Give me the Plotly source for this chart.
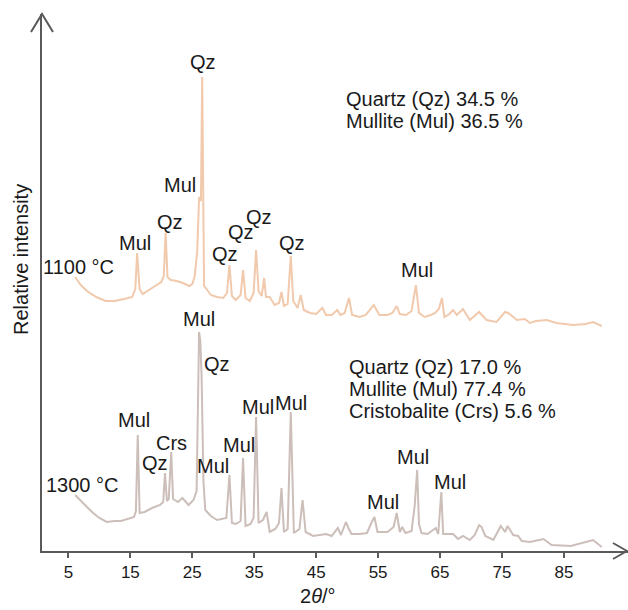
import plotly.graph_objects as go

# ---------------- data ----------------
tt_1100 = [6.1, 7.0, 8.0, 9.5, 11.0, 12.5, 14.0, 15.3, 15.8, 16.1, 16.5, 17.0, 18.0, 19.0, 20.0,
           20.4, 20.7, 21.0, 21.5, 22.5, 23.5, 24.5, 25.0, 25.4, 25.8, 26.1, 26.4, 26.6, 26.9,
           27.3, 28.0, 29.0, 30.0, 30.6, 31.0, 31.4, 32.0, 32.8, 33.2, 33.6, 34.3, 34.9, 35.3,
           35.7, 36.2, 36.6, 36.9, 37.5, 38.3, 39.0, 39.4, 39.8, 40.4, 40.9, 41.3, 42.0, 42.5,
           43.0, 44.0, 45.0, 46.0, 46.6, 47.5, 48.4, 48.9, 49.6, 50.3, 50.8, 52.0, 53.0, 54.3,
           55.2, 56.5, 57.3, 58.0, 58.5, 59.5, 60.4, 61.1, 61.6, 62.5, 63.5, 64.2, 64.8, 65.3,
           65.7, 66.5, 67.1, 67.7, 68.7, 69.8, 71.3, 72.5, 74.1, 75.0, 75.5, 76.0, 77.4, 78.7,
           79.5, 80.5, 82.2, 83.8, 86.5, 88.5, 89.7, 91.1]
int_1100 = [274, 266, 260, 254, 250, 250, 252, 254, 262, 298, 262, 257, 261, 265, 269,
            275, 318, 274, 271, 270, 268, 265, 267, 275, 300, 354, 350, 474, 265,
            262, 256, 254, 253, 258, 286, 255, 251, 256, 281, 253, 250, 258, 301,
            260, 255, 273, 254, 254, 246, 248, 259, 245, 247, 295, 250, 243, 256,
            241, 238, 237, 243, 236, 236, 241, 236, 238, 253, 236, 234, 236, 246,
            236, 236, 238, 245, 237, 236, 240, 266, 238, 234, 236, 238, 242, 253,
            234, 237, 241, 236, 242, 231, 239, 231, 229, 235, 239, 238, 231, 232,
            228, 230, 231, 228, 226, 227, 229, 225]

tt_1300 = [6.1, 7.0, 8.0, 9.0, 10.0, 11.2, 12.5, 13.5, 14.7, 15.6, 15.9, 16.2, 16.5, 17.3, 18.5,
           19.8, 20.3, 20.6, 20.9, 21.2, 21.6, 21.9, 22.7, 23.4, 24.4, 25.2, 25.7, 26.1, 26.3,
           26.5, 26.8, 27.1, 28.0, 29.0, 30.5, 31.0, 31.4, 32.0, 32.8, 33.2, 33.6, 34.4, 34.9,
           35.3, 35.7, 36.4, 37.0, 37.5, 38.4, 39.0, 39.4, 39.8, 40.4, 40.9, 41.4, 42.3, 42.8,
           43.3, 44.5, 45.7, 46.6, 47.5, 48.1, 48.5, 49.0, 49.5, 49.8, 50.2, 50.7, 52.0, 53.2,
           53.9, 54.4, 54.9, 56.5, 57.5, 58.0, 58.5, 58.9, 59.4, 60.4, 60.9, 61.3, 61.6, 62.0,
           63.0, 63.9, 64.3, 64.7, 65.2, 65.5, 66.3, 67.1, 67.9, 68.7, 69.8, 70.6, 71.3, 71.7,
           72.3, 73.6, 74.8, 75.5, 75.9, 76.8, 77.6, 78.2, 79.5, 81.7, 83.0, 86.1, 89.7, 91.1]
int_1300 = [56, 50, 44, 38, 33, 29, 30, 30, 32, 34, 40, 116, 38, 39, 43,
            46, 49, 78, 50, 52, 99, 52, 49, 53, 46, 51, 60, 219, 210,
            176, 70, 41, 35, 31, 33, 76, 28, 27, 30, 93, 25, 27, 33,
            134, 28, 31, 39, 19, 22, 28, 63, 19, 22, 139, 18, 22, 51,
            19, 15, 16, 17, 15, 20, 23, 16, 25, 29, 23, 17, 17, 18,
            28, 34, 19, 19, 24, 38, 19, 24, 18, 20, 45, 81, 27, 18,
            17, 21, 23, 17, 59, 17, 17, 17, 12, 15, 11, 16, 26, 24,
            15, 11, 25, 19, 25, 16, 15, 10, 9, 12, 6, 5, 11, 4]

x_ticks = [5, 15, 25, 35, 45, 55, 65, 75, 85]

# peak labels: (text, 2theta, intensity)
labels_1100 = [("Qz", 26.7, 489), ("Mul", 23.0, 366), ("Qz", 21.4, 329), ("Mul", 15.75, 308),
               ("Qz", 30.3, 297), ("Qz", 32.9, 319), ("Qz", 35.7, 334), ("Qz", 41.1, 308),
               ("Mul", 61.3, 281)]
labels_1300 = [("Mul", 26.1, 232), ("Qz", 29.0, 187), ("Mul", 15.6, 131), ("Crs", 21.7, 108),
               ("Qz", 19.0, 88), ("Mul", 28.35, 85), ("Mul", 32.5, 106), ("Mul", 35.6, 144),
               ("Mul", 40.9, 148), ("Mul", 55.8, 49), ("Mul", 60.6, 94), ("Mul", 66.6, 69)]
temps = [("1100 °C", 6.7, 284), ("1300 °C", 7.2, 66)]
comp_1100 = ["Quartz (Qz) 34.5 %", "Mullite (Mul) 36.5 %"]
comp_1300 = ["Quartz (Qz) 17.0 %", "Mullite (Mul) 77.4 %", "Cristobalite (Crs) 5.6 %"]

# ---------------- figure ----------------
W, H = 628, 610
L, R, T, B = 42, 0, 14, 59
FONT = "Liberation Sans, Arial, Helvetica, sans-serif"
TXT = "#1a1a1a"
AX = "#5a5a5a"

fig = go.Figure()
fig.add_trace(go.Scatter(x=tt_1100, y=int_1100, mode="lines",
                         line=dict(color="rgb(241,201,172)", width=2), showlegend=False))
fig.add_trace(go.Scatter(x=tt_1300, y=int_1300, mode="lines",
                         line=dict(color="rgb(204,190,185)", width=2), showlegend=False))

ann = []
for t, x, y in labels_1100 + labels_1300 + temps:
    ann.append(dict(text=t, x=x, y=y, xref="x", yref="y", showarrow=False,
                    xanchor="center", yanchor="middle", font=dict(size=20, color=TXT, family=FONT)))
for i, t in enumerate(comp_1100):
    ann.append(dict(text=t, x=49.5, y=452 - 22 * i, xref="x", yref="y", showarrow=False,
                    xanchor="left", yanchor="middle", font=dict(size=20, color=TXT, family=FONT)))
for i, t in enumerate(comp_1300):
    ann.append(dict(text=t, x=49.97, y=184 - 22 * i, xref="x", yref="y", showarrow=False,
                    xanchor="left", yanchor="middle", font=dict(size=20, color=TXT, family=FONT)))

pw, ph = W - L - R, H - T - B
def px(xp):
    return (xp - L) / pw
def py(yp):
    return (H - B - yp) / ph

# axis titles
ann.append(dict(text="2<i>θ</i>/°", x=px(318), y=py(596), xref="paper", yref="paper",
                showarrow=False, xanchor="center", yanchor="middle",
                font=dict(size=20, color=TXT, family=FONT)))
ann.append(dict(text="Relative intensity", x=px(21), y=py(260), xref="paper", yref="paper",
                showarrow=False, xanchor="center", yanchor="middle", textangle=-90,
                font=dict(size=20, color=TXT, family=FONT)))

shapes = [
    dict(type="path", xref="paper", yref="paper",
         path=f"M {px(31)} {py(32)} L {px(42)} {py(14)} L {px(53)} {py(32)}",
         line=dict(color=AX, width=2)),
    dict(type="path", xref="paper", yref="paper",
         path=f"M {px(613)} {py(543)} L {px(627)} {py(551)} L {px(613)} {py(559)}",
         line=dict(color=AX, width=2)),
]

x0 = (L - 37.4) / 6.195
x1 = (W - R - 37.4) / 6.195
fig.update_layout(
    width=W, height=H, margin=dict(l=L, r=R, t=T, b=B),
    paper_bgcolor="white", plot_bgcolor="white",
    font=dict(family=FONT, color=TXT),
    annotations=ann, shapes=shapes,
    xaxis=dict(range=[x0, x1], tickvals=x_ticks, ticktext=[str(v) for v in x_ticks],
               ticks="outside", ticklen=5, tickwidth=1.5, tickcolor=AX,
               showline=True, linecolor=AX, linewidth=2, showgrid=False, zeroline=False,
               tickfont=dict(size=17, color=TXT, family=FONT)),
    yaxis=dict(range=[0, H - B - T], showticklabels=False, ticks="", showline=True,
               linecolor=AX, linewidth=2, showgrid=False, zeroline=False),
)
fig.write_html("out.html")
